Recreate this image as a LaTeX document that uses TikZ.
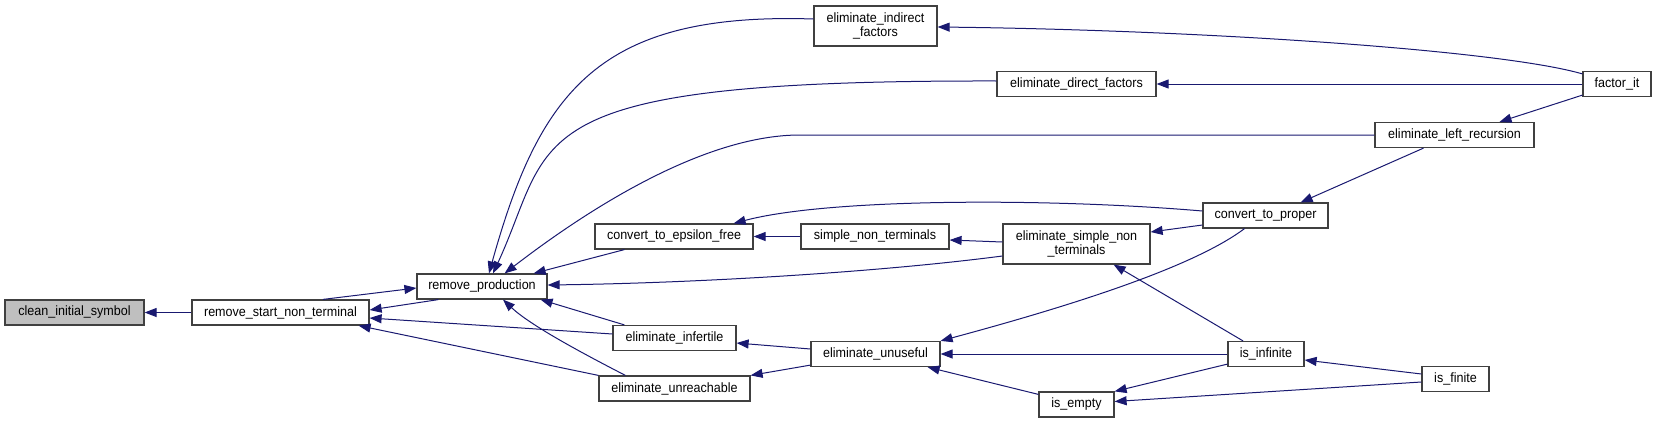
\documentclass[tikz,border=0pt]{standalone}
\usepackage{fontspec}
\setmainfont{Liberation Sans}[FakeStretch=0.93]
\usetikzlibrary{arrows.meta}
\definecolor{edgec}{HTML}{191970}
\definecolor{boxc}{HTML}{404040}
\definecolor{hl}{HTML}{BFBFBF}
\tikzset{
  fn/.style={draw=boxc, line width=1.2pt, fill=white, inner sep=0pt, minimum height=25pt,
    font=\fontsize{13.5}{14.8}\selectfont, align=center},
  hlfn/.style={fn, fill=hl},
  call/.style={draw=edgec, line width=1pt, -{Triangle[length=12pt,width=9pt]}}
}
\begin{document}
\begin{tikzpicture}[x=1pt,y=-1pt]
\useasboundingbox (0,0) rectangle (1656,423);
% nodes
\node[hlfn, minimum width=139pt] (clean) at (74.5,312.5) {clean\_initial\_symbol};
\node[fn, minimum width=177pt] (rsnt) at (280.5,312.5) {remove\_start\_non\_terminal};
\node[fn, minimum width=130pt] (rp) at (482,286.5) {remove\_production};
\node[fn, minimum width=123pt, minimum height=40pt] (eif) at (875.5,26) {eliminate\_indirect\\\_factors};
\node[fn, minimum width=159pt] (edf) at (1076.5,84) {eliminate\_direct\_factors};
\node[fn, minimum width=68pt] (fit) at (1617,84) {factor\_it};
\node[fn, minimum width=159pt] (elr) at (1454.5,135) {eliminate\_left\_recursion};
\node[fn, minimum width=125pt] (ctp) at (1265.5,215.5) {convert\_to\_proper};
\node[fn, minimum width=158pt] (cef) at (674,236.5) {convert\_to\_epsilon\_free};
\node[fn, minimum width=148pt] (snt) at (875,236.5) {simple\_non\_terminals};
\node[fn, minimum width=147pt, minimum height=40pt] (esnt) at (1076.5,244) {eliminate\_simple\_non\\\_terminals};
\node[fn, minimum width=123pt] (einf) at (674.5,338) {eliminate\_infertile};
\node[fn, minimum width=129pt] (eunu) at (875.5,354) {eliminate\_unuseful};
\node[fn, minimum width=151pt] (eunr) at (674.5,388.5) {eliminate\_unreachable};
\node[fn, minimum width=75pt] (iempty) at (1076.5,404.5) {is\_empty};
\node[fn, minimum width=76pt] (iinf) at (1266,354) {is\_infinite};
\node[fn, minimum width=67pt] (ifin) at (1455.5,379) {is\_finite};
% edges
\draw[call] (rsnt.west) -- (clean.east);
\draw[call] ([xshift=22pt]rp.south west) -- ([yshift=2.5pt]rsnt.east);
\draw[call] ([xshift=42.5pt]rsnt.north) -- ([yshift=-1.5pt]rp.west);
\draw[call] ([yshift=4pt]einf.west) -- ([yshift=-5.5pt]rsnt.east);
\draw[call] (eunr.north west) -- ([xshift=-11pt]rsnt.south east);
\draw[call] ([xshift=30pt]cef.south west) -- ([xshift=-14pt]rp.north east);
\draw[call] ([yshift=-12pt]esnt.west) .. controls (880,272) and (700,283) .. ([yshift=1.5pt]rp.east);
\draw[call] ([xshift=12pt]einf.north west) -- ([xshift=-7pt]rp.south east);
\draw[call] ([xshift=27pt]eunr.north west) .. controls (580,352) and (530,325) .. ([xshift=21pt]rp.south);
\draw[call] ([yshift=7pt]eif.west) .. controls (600,12) and (540,90) .. ([xshift=7pt]rp.north);
\draw[call] ([yshift=3pt]edf.west) .. controls (510,80) and (556,137) .. ([xshift=11pt]rp.north);
\draw[call] (elr.west) -- (800,135) .. controls (710,135) and (600,200) .. ([xshift=-43pt]rp.north east);
\draw[call] ([yshift=4.5pt]ctp.west) .. controls (1050,198) and (830,198) .. ([xshift=-20pt]cef.north east);
\draw[call] (snt.west) -- (cef.east);
\draw[call] ([yshift=2pt]esnt.west) -- ([yshift=-3.5pt]snt.east);
\draw[call] ([yshift=-9.5pt]ctp.west) -- ([yshift=12pt]esnt.east);
\draw[call] ([yshift=-3pt]fit.north west) .. controls (1500,50) and (1200,30) .. ([yshift=-1pt]eif.east);
\draw[call] (fit.west) -- (edf.east);
\draw[call] ([yshift=2pt]fit.south west) -- ([xshift=45pt]elr.north);
\draw[call] ([xshift=-31pt]elr.south) -- ([xshift=-28pt]ctp.north east);
\draw[call] ([yshift=5pt]eunu.west) -- ([yshift=-5pt]einf.east);
\draw[call] ([yshift=2pt]eunu.south west) -- (eunr.north east);
\draw[call] ([xshift=-21pt]ctp.south) .. controls (1200,262) and (1100,298) .. (eunu.north east);
\draw[call] (iinf.west) -- (eunu.east);
\draw[call] ([yshift=-3pt]iempty.north west) -- ([xshift=-13pt]eunu.south east);
\draw[call] ([xshift=-23pt]iinf.north) -- ([xshift=-37pt]esnt.south east);
\draw[call] ([yshift=3pt]iinf.south west) -- (iempty.north east);
\draw[call] ([yshift=-3pt]ifin.west) -- ([yshift=3pt]iempty.east);
\draw[call] ([yshift=5pt]ifin.west) -- ([yshift=-6pt]iinf.east);
\end{tikzpicture}
\end{document}
